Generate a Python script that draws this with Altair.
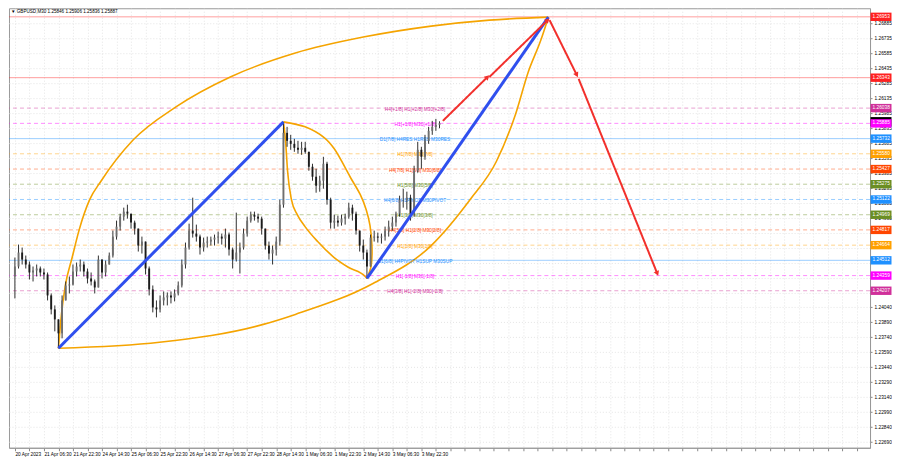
import json
import math
import altair as alt
import pandas as pd

W, H = 862, 440
X_DOMAIN = [-1, 937]          # 30-minute bar index
Y_DOMAIN = [1.22633, 1.27039]
BARS_PER_LABEL = 32
BARS_PER_GRID = 16
BARS_PER_CANDLE = 4
LABEL_BAR = 441
FONT = "Liberation Sans"
FS = 4.8

time_labels = ["20 Apr 2023", "21 Apr 06:30", "21 Apr 22:30", "24 Apr 14:30", "25 Apr 06:30",
               "25 Apr 22:30", "26 Apr 14:30", "27 Apr 06:30", "27 Apr 22:30", "28 Apr 14:30",
               "1 May 06:30", "1 May 22:30", "2 May 14:30", "3 May 06:30", "3 May 22:30"]

price_ticks = [1.26885, 1.26735, 1.26585, 1.26435, 1.26285, 1.26135, 1.25985, 1.25835, 1.25685,
               1.25535, 1.25385, 1.25235, 1.25085, 1.24935, 1.24785, 1.24635, 1.24485, 1.24335,
               1.24190, 1.24040, 1.23890, 1.23740, 1.23590, 1.23440, 1.23290, 1.23140, 1.22990,
               1.22840, 1.22690]
# tick labels that sit fully under a level price box in the reference
covered_ticks = [1.24785, 1.24635, 1.24485, 1.24335, 1.24190]

header_text = "\u25bc GBPUSD,M30  1.25846 1.25906 1.25836 1.25887"

first_open = 1.2435
highs = [1.2454, 1.2467, 1.2464, 1.2456, 1.2450, 1.2445, 1.2447, 1.2445, 1.2443, 1.2439,
         1.2418, 1.2406, 1.2392, 1.2416, 1.2430, 1.2435, 1.2447, 1.2449, 1.2452, 1.2450,
         1.2443, 1.2439, 1.2432, 1.2456, 1.2452, 1.2451, 1.2459, 1.2481, 1.2491, 1.2498,
         1.2504, 1.2507, 1.2498, 1.2491, 1.2481, 1.2475, 1.2470, 1.2445, 1.2426, 1.2411,
         1.2416, 1.2420, 1.2419, 1.2420, 1.2422, 1.2430, 1.2452, 1.2469, 1.2488, 1.2514,
         1.2487, 1.2477, 1.2474, 1.2475, 1.2475, 1.2477, 1.2480, 1.2478, 1.2483, 1.2479,
         1.2464, 1.2499, 1.2469, 1.2483, 1.2495, 1.2500, 1.2500, 1.2498, 1.2495, 1.2479,
         1.2470, 1.2466, 1.2475, 1.2512, 1.2590, 1.2585, 1.2577, 1.2573, 1.2571, 1.2570,
         1.2570, 1.2560, 1.2548, 1.2543, 1.2536, 1.2555, 1.2550, 1.2514, 1.2497, 1.2496,
         1.2497, 1.2498, 1.2509, 1.2507, 1.2500, 1.2481, 1.2472, 1.2462, 1.2477, 1.2481,
         1.2479, 1.2478, 1.2485, 1.2491, 1.2495, 1.2500, 1.2516, 1.2523, 1.2520, 1.2517,
         1.2546, 1.2570, 1.2565, 1.2577, 1.2585, 1.2591, 1.2593, 1.25906]
lows = [1.2413, 1.2443, 1.2447, 1.2443, 1.2432, 1.2430, 1.2435, 1.2435, 1.2432, 1.2411,
        1.2397, 1.2380, 1.2363, 1.2373, 1.2411, 1.2418, 1.2426, 1.2435, 1.2440, 1.2435,
        1.2428, 1.2426, 1.2418, 1.2424, 1.2433, 1.2435, 1.2447, 1.2454, 1.2472, 1.2481,
        1.2491, 1.2493, 1.2483, 1.2477, 1.2460, 1.2458, 1.2437, 1.2416, 1.2399, 1.2394,
        1.2399, 1.2406, 1.2406, 1.2408, 1.2410, 1.2416, 1.2424, 1.2443, 1.2462, 1.2474,
        1.2470, 1.2457, 1.2460, 1.2464, 1.2466, 1.2466, 1.2468, 1.2467, 1.2464, 1.2456,
        1.2443, 1.2450, 1.2438, 1.2462, 1.2475, 1.2489, 1.2491, 1.2489, 1.2477, 1.2462,
        1.2452, 1.2447, 1.2456, 1.2466, 1.2504, 1.2565, 1.2562, 1.2560, 1.2558, 1.2557,
        1.2558, 1.2541, 1.2531, 1.2519, 1.2520, 1.2523, 1.2507, 1.2483, 1.2483, 1.2485,
        1.2486, 1.2487, 1.2493, 1.2491, 1.2477, 1.2460, 1.2452, 1.2433, 1.2445, 1.2470,
        1.2469, 1.2468, 1.2471, 1.2475, 1.2481, 1.2485, 1.2495, 1.2504, 1.2502, 1.2491,
        1.2495, 1.2539, 1.2543, 1.2552, 1.2568, 1.2577, 1.2581, 1.25836]
closes = [1.2445, 1.2459, 1.2452, 1.2447, 1.2439, 1.2441, 1.2443, 1.2439, 1.2437, 1.2416,
          1.2402, 1.2392, 1.2378, 1.2411, 1.2426, 1.2427, 1.2440, 1.2445, 1.2447, 1.2440,
          1.2433, 1.2430, 1.2424, 1.2452, 1.2439, 1.2447, 1.2456, 1.2475, 1.2485, 1.2495,
          1.2500, 1.2498, 1.2489, 1.2483, 1.2466, 1.2470, 1.2443, 1.2422, 1.2404, 1.2402,
          1.2411, 1.2414, 1.2416, 1.2414, 1.2418, 1.2426, 1.2447, 1.2464, 1.2481, 1.2478,
          1.2475, 1.2464, 1.2469, 1.2470, 1.2472, 1.2474, 1.2475, 1.2473, 1.2477, 1.2462,
          1.2452, 1.2459, 1.2464, 1.2478, 1.2491, 1.2497, 1.2495, 1.2493, 1.2483, 1.2466,
          1.2458, 1.2462, 1.2470, 1.2507, 1.2579, 1.2571, 1.2568, 1.2564, 1.2562, 1.2564,
          1.2560, 1.2545, 1.2535, 1.2526, 1.2531, 1.2548, 1.2512, 1.2489, 1.2491, 1.2489,
          1.2493, 1.2495, 1.2504, 1.2498, 1.2481, 1.2466, 1.2459, 1.2445, 1.2474, 1.2475,
          1.2474, 1.2475, 1.2481, 1.2485, 1.2489, 1.2498, 1.2512, 1.2512, 1.2514, 1.2498,
          1.2541, 1.2562, 1.2555, 1.2571, 1.2581, 1.2585, 1.2587, 1.25887]

level_prices = [1.26953, 1.26343, 1.26038, 1.25885, 1.25732, 1.25580, 1.25427, 1.25275,
                1.25122, 1.24969, 1.24817, 1.24664, 1.24512, 1.24359, 1.24207]
level_colors = ["#ff2020", "#ff2020", "#d0309a", "#ff00ff", "#1e90ff", "#ffa000", "#ff4500",
                "#6b8e23", "#1e90ff", "#6b8e23", "#ff4500", "#ffa000", "#1e90ff", "#ff00ff",
                "#d0309a"]
level_styles = ["solid", "solid", "dash", "dash", "solid", "dash", "dash", "dash", "dash",
                "dash", "dash", "dash", "solid", "dash", "dash"]
level_texts = ["", "", "H4[+1/8] H1[+2/8] M30[+2/8]", "H1[+1/8] M30[+1/8]",
               "D1[7/8] H4RES H1RES M30RES", "H1[7/8] M30[7/8]", "H4[7/8] H1[6/8] M30[6/8]",
               "H1[5/8] M30[5/8]", "H4[6/8] H1PIVOT M30PIVOT", "H1[3/8] M30[3/8]",
               "H4[5/8] H1[2/8] M30[2/8]", "H1[1/8] M30[1/8]", "D1[6/8] H4PIVOT H1SUP M30SUP",
               "H1[-1/8] M30[-1/8]", "H4[3/8] H1[-2/8] M30[-2/8]"]
current_price = 1.25887

blue_bars = [[48, 296], [388, 588]]
blue_prices = [[1.2363, 1.2590], [1.2433, 1.2695]]

curve_bars = {
    "outer_up": [48, 51.3, 55.6, 63.1, 70.6, 82.4, 95.2, 130.5, 177.5, 237.4, 309.1, 384, 458.8, 523, 588],
    "outer_low": [48, 159.4, 273.8, 309.1, 394.7, 458.8, 501.6, 530.5, 551.9, 565.8, 579.7, 588],
    "inner_left": [296, 298.4, 300.5, 304.8, 311.2, 319.8, 333.7, 351.9, 367.9, 386.1, 388],
    "inner_right": [296, 319.8, 341.2, 352, 370, 380.7, 387.2, 391.4, 393.6, 392.5, 388],
}
curve_prices = {
    "outer_up": [1.2363, 1.2397, 1.2426, 1.2454, 1.2481, 1.2512, 1.2531, 1.2572, 1.2605, 1.2635, 1.2659, 1.2675, 1.2686, 1.2692, 1.2695],
    "outer_low": [1.2363, 1.2369, 1.2387, 1.2397, 1.2428, 1.2466, 1.2512, 1.2550, 1.2598, 1.2640, 1.2672, 1.2695],
    "inner_left": [1.2590, 1.2570, 1.2541, 1.2512, 1.2497, 1.2485, 1.2470, 1.2454, 1.2444, 1.2435, 1.2433],
    "inner_right": [1.2590, 1.2585, 1.2574, 1.2563, 1.2534, 1.2517, 1.2502, 1.2486, 1.2464, 1.2445, 1.2433],
}
# curves whose bar coordinate only grows can use monotone smoothing
monotone_curves = ["outer_up", "outer_low", "inner_left"]

arrow_start_bar = [471.7, 523, 589.3, 621.4]
arrow_start_price = [1.2591, 1.2635, 1.2692, 1.2633]
arrow_end_bar = [520.9, 587.2, 619.3, 708]
arrow_end_price = [1.2635, 1.2692, 1.2637, 1.2438]
arrow_styles = ["solid", "dotted", "dotted", "solid"]

# ---------------- tables ----------------
opens = [first_open] + closes[:-1]
crow = []
for k, (o, h, l, c) in enumerate(zip(opens, highs, lows, closes)):
    crow.append(dict(bar=k * BARS_PER_CANDLE, open=o, close=c,
                     high=max(h, o, c), low=min(l, o, c),
                     dir="up" if c >= o else "down"))
candles = pd.DataFrame(crow)

levels = pd.DataFrame(dict(price=level_prices, color=level_colors, style=level_styles,
                           text=level_texts))
levels["lbar"] = LABEL_BAR
labels_df = levels[levels["text"] != ""]

brow = []
for i, (bs, ps) in enumerate(zip(blue_bars, blue_prices)):
    for j, (b, p) in enumerate(zip(bs, ps)):
        brow.append(dict(id=i, seq=j, bar=b, price=p))
blue_df = pd.DataFrame(brow)

orow = []
for name in curve_bars:
    for j, (b, p) in enumerate(zip(curve_bars[name], curve_prices[name])):
        orow.append(dict(id=name, seq=j, bar=b, price=p, mono=name in monotone_curves))
orange_df = pd.DataFrame(orow)

px_per_bar = W / (X_DOMAIN[1] - X_DOMAIN[0])
px_per_price = H / (Y_DOMAIN[1] - Y_DOMAIN[0])
arow, hrow = [], []
for i in range(len(arrow_styles)):
    arow.append(dict(id=i, seq=0, bar=arrow_start_bar[i], price=arrow_start_price[i], style=arrow_styles[i]))
    arow.append(dict(id=i, seq=1, bar=arrow_end_bar[i], price=arrow_end_price[i], style=arrow_styles[i]))
    dx = (arrow_end_bar[i] - arrow_start_bar[i]) * px_per_bar
    dy = -(arrow_end_price[i] - arrow_start_price[i]) * px_per_price
    ang = math.degrees(math.atan2(dx, -dy)) % 360
    hrow.append(dict(bar=arrow_end_bar[i], price=arrow_end_price[i], ang=ang))
arrow_df = pd.DataFrame(arow)
head_df = pd.DataFrame(hrow)

# ---------------- scales & axes ----------------
xs = alt.Scale(domain=X_DOMAIN, nice=False, zero=False)
ys = alt.Scale(domain=Y_DOMAIN, nice=False, zero=False)
x_label_expr = (f"(datum.value % {BARS_PER_LABEL} == 0 && datum.value / {BARS_PER_LABEL} < {len(time_labels)})"
                f" ? {json.dumps(time_labels)}[datum.value / {BARS_PER_LABEL}] : ''")
y_label_expr = f"indexof({json.dumps(covered_ticks)}, datum.value) >= 0 ? '' : format(datum.value, '.5f')"
xax = alt.Axis(values=list(range(0, X_DOMAIN[1], BARS_PER_GRID)), labelExpr=x_label_expr,
               labelAlign="left", labelFlush=False, labelOverlap=False, labelFontSize=FS,
               labelFont=FONT, labelColor="#000", labelPadding=1, tickSize=3, tickColor="#888",
               grid=True, gridColor="#e4e4e4", gridDash=[1, 2], domainColor="#999", title=None)
yax = alt.Axis(orient="right", values=price_ticks, labelExpr=y_label_expr, labelFontSize=FS,
               labelFont=FONT, labelColor="#000", labelPadding=2, tickSize=2, tickColor="#888",
               labelOverlap=False, grid=True, gridColor="#e4e4e4", gridDash=[1, 2],
               domainColor="#999", title=None)

X = lambda f: alt.X(f, type="quantitative", scale=xs, axis=xax)
Y = lambda f: alt.Y(f, type="quantitative", scale=ys, axis=yax)

lv = alt.Chart(levels)
level_rules = lv.mark_rule(strokeWidth=1, opacity=0.45).encode(
    y=Y("price"),
    color=alt.Color("color:N", scale=None),
    strokeDash=alt.StrokeDash("style:N", scale=alt.Scale(domain=["solid", "dash"], range=[[1, 0], [4, 3]]), legend=None),
)

oc = alt.Chart(orange_df)
orange_mono = oc.transform_filter("datum.mono").mark_line(
    color="#f5a400", strokeWidth=1.6, interpolate="monotone").encode(
    x=X("bar"), y=Y("price"), detail="id:N", order="seq:Q")
orange_free = oc.transform_filter("!datum.mono").mark_line(
    color="#f5a400", strokeWidth=1.6, interpolate="catmull-rom").encode(
    x=X("bar"), y=Y("price"), detail="id:N", order="seq:Q")

level_labels = alt.Chart(labels_df).mark_text(fontSize=FS, font=FONT, align="center", baseline="middle", dy=1.5).encode(
    x=X("lbar"), y=Y("price"), text="text:N", color=alt.Color("color:N", scale=None))

cb = alt.Chart(candles)
wicks = cb.mark_rule(color="#303030", strokeWidth=1).encode(x=X("bar"), y=Y("low"), y2="high")
bodies = cb.mark_bar(size=1.9).encode(
    x=X("bar"), y=Y("open"), y2="close",
    color=alt.Color("dir:N", scale=alt.Scale(domain=["up", "down"], range=["#6f6f6f", "#1c1c1c"]), legend=None))

blue = alt.Chart(blue_df).mark_line(color="#2f4fee", strokeWidth=3).encode(
    x=X("bar"), y=Y("price"), detail="id:N", order="seq:Q")

red = alt.Chart(arrow_df).mark_line(color="#f2302c", strokeWidth=2).encode(
    x=X("bar"), y=Y("price"), detail="id:N", order="seq:Q",
    strokeDash=alt.StrokeDash("style:N", scale=alt.Scale(domain=["solid", "dotted"], range=[[1, 0], [2, 2]]), legend=None))
heads = alt.Chart(head_df).mark_point(shape="triangle-up", filled=True, size=32, color="#f2302c", opacity=1).encode(
    x=X("bar"), y=Y("price"), angle=alt.Angle("ang:Q", scale=None))

BOX = "M-1,-0.4H1V0.4H-1Z"
BOX_CUR = "M-1,-0.58H1V0.3H-1Z"
cur_df = pd.DataFrame(dict(price=[current_price]))
cur_box = alt.Chart(cur_df).mark_point(shape=BOX_CUR, size=441, filled=True, opacity=1, strokeWidth=0, color="#000").encode(
    x=alt.value(W + 11), y=Y("price"))
boxes = lv.mark_point(shape=BOX, size=441, filled=True, opacity=1, strokeWidth=0).encode(
    x=alt.value(W + 11), y=Y("price"), color=alt.Color("color:N", scale=None))
box_text = lv.mark_text(fontSize=FS, font=FONT, align="left", baseline="middle", color="white").encode(
    x=alt.value(W + 2.5), y=Y("price"), text=alt.Text("price:Q", format=".5f"))

header = alt.Chart(pd.DataFrame(dict(t=[header_text]))).mark_text(
    fontSize=4.6, font=FONT, align="left", baseline="middle", color="#000").encode(
    x=alt.value(2), y=alt.value(4), text="t:N")

chart = alt.layer(level_rules, orange_mono, orange_free, level_labels, wicks, bodies, blue, red,
                  heads, cur_box, boxes, box_text, header).properties(
    width=W, height=H, padding=0, background="white"
).configure_view(stroke="#9a9a9a", strokeWidth=1)

chart.save("out.html", embed_options={"renderer": "svg", "actions": False})
